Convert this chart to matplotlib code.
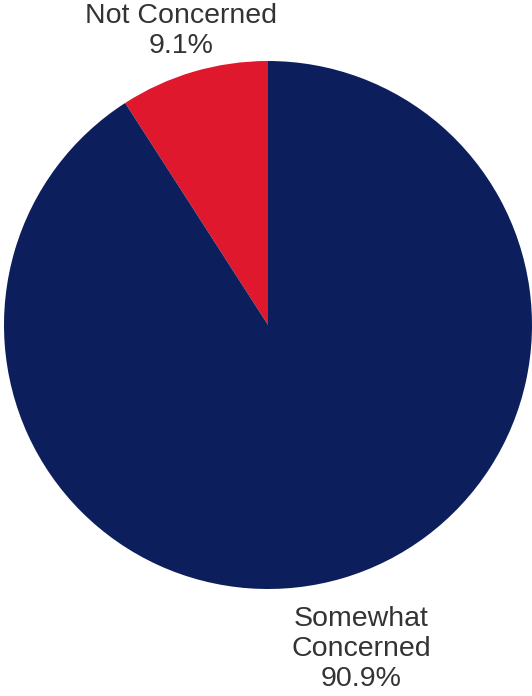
import matplotlib.pyplot as plt

categories = ["Not Concerned", "Somewhat Concerned"]
shares = [9.1, 90.9]
label_text = ["Not Concerned\n9.1%", "Somewhat\nConcerned\n90.9%"]
colors = ["#e0182d", "#0c1f5c"]

W, H = 532, 696

fig = plt.figure(figsize=(W / 100, H / 100), dpi=100)
ax = fig.add_axes([0, 0, 1, 1])

cx, cy, r = 268, H - 325, 264
ax.pie(
    shares,
    colors=colors,
    startangle=90,
    counterclock=True,
    center=(cx, cy),
    radius=r,
    wedgeprops=dict(linewidth=0),
    frame=True,
)
ax.set_xlim(0, W)
ax.set_ylim(0, H)
ax.set_aspect("equal")
ax.axis("off")

text_kw = dict(ha="center", va="center", fontsize=20.5, color="#333333",
               family="Liberation Sans", linespacing=1.22)
ax.text(181, H - 31, label_text[0], **text_kw)
ax.text(361, H - 649, label_text[1], **text_kw)

fig.savefig("out.png", dpi=100)
